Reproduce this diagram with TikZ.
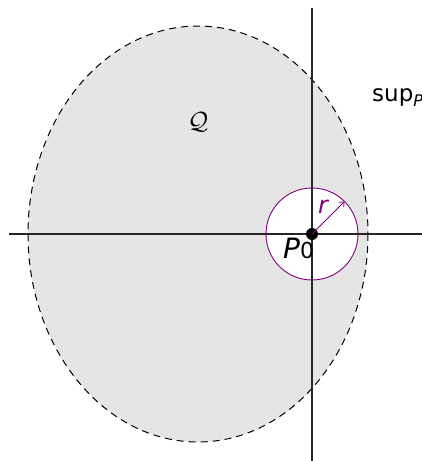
\documentclass[tikz,border=0pt]{standalone}
\usepackage{fontspec}
\setmainfont{DejaVu Sans}
\usetikzlibrary{arrows.meta}
\definecolor{ballc}{RGB}{128,0,128}
\definecolor{regionfill}{RGB}{229,229,229}
\begin{document}
\begin{tikzpicture}[x=1pt,y=-1pt,
  axis/.style={line width=1.1pt, black!85},
  region/.style={draw=black, line width=1pt, dash pattern=on 7pt off 5pt, fill=regionfill},
  ball/.style={draw=ballc, line width=0.9pt, fill=white},
  radius arrow/.style={draw=ballc, line width=0.8pt, -{Straight Barb[length=4pt,width=7pt]}},
  centre dot/.style={circle, fill=black, inner sep=0pt, minimum size=12pt},
  lbl/.style={inner sep=0pt}]
\useasboundingbox (0,0) rectangle (422,461);
% region Q
\coordinate (qc) at (198,234);
\draw[region] (qc) ellipse [x radius=170, y radius=208];
% ball
\coordinate (p0c) at (312,234);
\draw[ball] (p0c) circle [radius=46];
% axes
\coordinate (xl) at (9,234);
\coordinate (xr) at (422,234);
\coordinate (yt) at (312,8);
\coordinate (yb) at (312,461);
\draw[axis] (xl) -- (xr);
\draw[axis] (yt) -- (yb);
% centre point and radius
\node[centre dot] (P0) at (p0c) {};
\coordinate (tip) at (344.5,201.5);
\draw[radius arrow] (P0.center) -- (tip);
% labels
\node[lbl, text=ballc] (rl) at (323,207) {\fontsize{24}{28}\selectfont\itshape r};
\node[lbl, anchor=base west] (p0l) at (283,258) {\fontsize{28}{32}\selectfont\itshape P\upshape\fontsize{22}{26}\selectfont 0};
\node[lbl] (ql) at (198,122) {\fontsize{26}{30}\selectfont$\mathcal{Q}$};
\node[lbl, anchor=base west] (supl) at (372,101) {\fontsize{23}{27}\selectfont sup\raisebox{-5pt}{\fontsize{16}{19}\selectfont\itshape P}};
\end{tikzpicture}
\end{document}
